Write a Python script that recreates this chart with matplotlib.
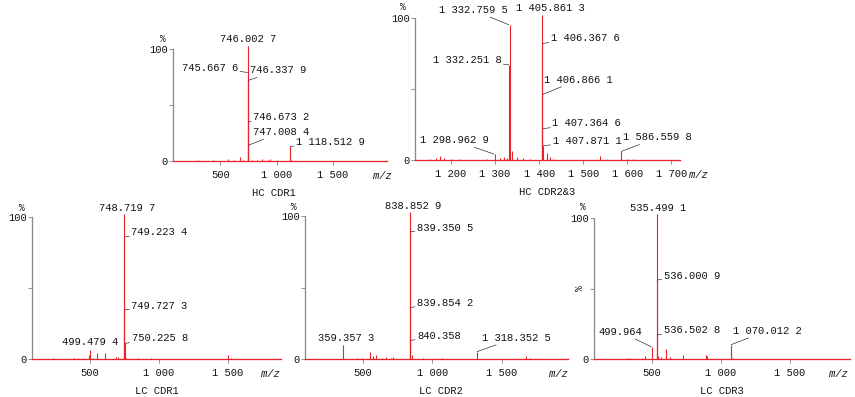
import matplotlib
matplotlib.use('Agg')
import matplotlib.pyplot as plt

plt.rcParams['font.family'] = ['Liberation Mono', 'DejaVu Sans']

RED = '#e8232a'
TXT = '#141414'
GREY = '#8a8a8a'

# ---- HC CDR1 ----
hc1_mz = [300, 433, 567, 620, 674, 700, 745.6676, 746.0027, 746.3379, 746.6732, 747.0084,
          780, 826, 870, 923, 941, 1003, 1118.5129, 1125]
hc1_int = [0.8, 0.8, 2.0, 1.0, 3.5, 1.0, 79, 103, 72, 35, 14,
           1.2, 1.0, 1.5, 1.2, 1.5, 1.0, 13, 1.0]
hc1_lab_mz = [746.0027, 745.6676, 746.3379, 746.6732, 747.0084, 1118.5129]
hc1_lab_txt = ['746.002 7', '745.667 6', '746.337 9', '746.673 2', '747.008 4', '1 118.512 9']

# ---- HC CDR2&3 ----
hc23_mz = [1152, 1165, 1175, 1185, 1200, 1220, 1282, 1298.9629, 1311, 1320, 1327,
           1332.2518, 1332.7595, 1338, 1350, 1363, 1379, 1405.8613, 1406.3676, 1406.8661,
           1407.3646, 1407.8711, 1418, 1425, 1432, 1538, 1554, 1586.5598, 1600, 1614]
hc23_int = [1.0, 1.2, 3.0, 1.2, 1.0, 1.0, 1.0, 4.0, 1.5, 2.0, 1.5,
            67, 95, 6.0, 2.0, 1.5, 1.0, 102, 82, 46,
            22, 10, 5.0, 2.0, 1.0, 3.0, 1.0, 6.0, 1.0, 1.0]
hc23_lab_mz = [1405.8613, 1332.7595, 1332.2518, 1406.3676, 1406.8661, 1407.3646,
               1407.8711, 1298.9629, 1586.5598]
hc23_lab_txt = ['1 405.861 3', '1 332.759 5', '1 332.251 8', '1 406.367 6', '1 406.866 1',
                '1 407.364 6', '1 407.871 1', '1 298.962 9', '1 586.559 8']

# ---- LC CDR1 ----
lc1_mz = [232, 384, 413, 450, 493, 499.4794, 522, 551, 609, 689, 703, 748.7197, 749.2234,
          749.7273, 750.2258, 761, 848, 942, 1500, 1522]
lc1_int = [0.8, 1.0, 1.0, 1.0, 3.0, 6.0, 1.0, 4.0, 4.0, 1.5, 1.5, 102, 86,
           34.5, 11, 1.0, 0.7, 0.7, 2.5, 1.0]
lc1_lab_mz = [748.7197, 749.2234, 749.7273, 750.2258, 499.4794]
lc1_lab_txt = ['748.719 7', '749.223 4', '749.727 3', '750.225 8', '499.479 4']

# ---- LC CDR2 ----
lc2_mz = [359.3573, 457, 493, 553, 575, 596, 640, 670, 700, 718, 838.8529, 839.3505,
          839.8542, 840.358, 852, 934, 1068, 1318.3525, 1675, 1704]
lc2_int = [10, 1.0, 1.0, 5.0, 2.0, 3.0, 1.0, 1.2, 1.0, 1.5, 103, 89,
           36, 13, 2.5, 1.0, 1.0, 5.0, 2.0, 1.0]
lc2_lab_mz = [838.8529, 839.3505, 839.8542, 840.358, 359.3573, 1318.3525]
lc2_lab_txt = ['838.852 9', '839.350 5', '839.854 2', '840.358', '359.357 3', '1 318.352 5']

# ---- LC CDR3 ----
lc3_mz = [319, 343, 428, 452, 499.964, 535.4991, 536.0009, 536.5028, 546, 565, 603, 633,
          727, 893, 901, 1070.0122, 1075, 1088]
lc3_int = [1.0, 1.0, 1.0, 2.0, 8.5, 103, 56, 17, 2.0, 1.5, 7.0, 1.5,
           3.0, 3.0, 2.0, 10, 6.0, 1.0]
lc3_lab_mz = [535.4991, 536.0009, 536.5028, 499.964, 1070.0122]
lc3_lab_txt = ['535.499 1', '536.000 9', '536.502 8', '499.964', '1 070.012 2']

titles = ['HC CDR1', 'HC CDR2&3', 'LC CDR1', 'LC CDR2', 'LC CDR3']

W, H = 855, 397
fig = plt.figure(figsize=(W / 72, H / 72), dpi=72)
FS = 10.5


def panel(box, xlim, xticks, mz, inten, lab_mz, lab_txt, offs, title, title_dx, mz_off, pct_off):
    left, right, top, bottom = box
    ax = fig.add_axes([left / W, 1 - bottom / H, (right - left) / W, (bottom - top) / H])
    ax.vlines(mz, 0, inten, color=RED, lw=1.1, clip_on=False, zorder=3)
    ax.plot(xlim, [0, 0], color=RED, lw=1.3, clip_on=False, zorder=3)
    ax.set_xlim(xlim)
    ax.set_ylim(0, 100)
    for s in ['top', 'right']:
        ax.spines[s].set_visible(False)
    ax.spines['left'].set_color(GREY)
    ax.spines['left'].set_linewidth(1.3)
    ax.spines['bottom'].set_color(GREY)
    ax.set_yticks([0, 50, 100])
    ax.set_yticklabels(['0', '', '100'])
    ax.set_xticks(xticks)
    ax.set_xticklabels(['{:,}'.format(t).replace(',', ' ') for t in xticks])
    ax.tick_params(axis='both', colors=GREY, labelcolor=TXT, labelsize=FS, length=4, width=0.9)
    ax.tick_params(axis='y', pad=1)
    ax.tick_params(axis='x', pad=5)
    ax.patch.set_alpha(0)

    lookup = dict(zip(mz, inten))
    for m, s, (dx, dy, ha) in zip(lab_mz, lab_txt, offs):
        if ha == 'center':
            ax.annotate(s, xy=(m, lookup[m]), xytext=(dx, dy), textcoords='offset points',
                        ha='center', va='center', fontsize=FS, color=TXT, annotation_clip=False)
        else:
            ax.annotate(s, xy=(m, lookup[m]), xytext=(dx, dy), textcoords='offset points',
                        ha=ha, va='center', fontsize=FS, color=TXT, annotation_clip=False,
                        arrowprops=dict(arrowstyle='-', color=TXT, lw=0.6, shrinkA=0, shrinkB=0.5))

    ax.annotate(title, xy=(0.5, 0), xycoords='axes fraction', xytext=(title_dx, -32),
                textcoords='offset points', ha='center', va='center', fontsize=FS, color=TXT)
    ax.annotate('m/z', xy=(1, 0), xycoords='axes fraction', xytext=(mz_off, -15),
                textcoords='offset points', ha='center', va='center', fontsize=FS,
                style='italic', color=TXT)
    ax.annotate('%', xy=(0, 1), xycoords='axes fraction', xytext=pct_off,
                textcoords='offset points', ha='center', va='center', fontsize=FS - 1, color=TXT)
    return ax


panel((173, 387, 49, 161), (77, 1983), [500, 1000, 1500], hc1_mz, hc1_int, hc1_lab_mz, hc1_lab_txt,
      [(0, 7, 'center'), (-10, 5, 'right'), (2, 10, 'left'), (5, 5, 'left'), (5, 13, 'left'),
       (6, 4, 'left')],
      titles[0], -6, -5, (-10, 10))

panel((415, 680, 18, 160), (1118, 1720), [1200, 1300, 1400, 1500, 1600, 1700], hc23_mz, hc23_int,
      hc23_lab_mz, hc23_lab_txt,
      [(9, 7, 'center'), (-2, 15, 'right'), (-8, 5, 'right'), (9, 6, 'left'), (2, 15, 'left'),
       (10, 6, 'left'), (10, 5, 'left'), (-6, 14, 'right'), (2, 14, 'left')],
      titles[1], 0, 18, (-12, 11))

panel((32, 281, 217, 359), (80, 1884), [500, 1000, 1500], lc1_mz, lc1_int, lc1_lab_mz, lc1_lab_txt,
      [(3, 6, 'center'), (7, 5, 'left'), (7, 4, 'left'), (7, 5, 'left'), (0, 8, 'center')],
      titles[2], 0, -11, (-10, 9))

panel((305, 568, 216, 359), (85, 1976), [500, 1000, 1500], lc2_mz, lc2_int, lc2_lab_mz, lc2_lab_txt,
      [(3, 6, 'center'), (7, 4, 'left'), (7, 5, 'left'), (7, 4, 'left'), (3, 7, 'center'),
       (5, 14, 'left')],
      titles[3], 4, -10, (-11, 9))

ax5 = panel((594, 850, 218, 359), (83, 1933), [500, 1000, 1500], lc3_mz, lc3_int, lc3_lab_mz,
            lc3_lab_txt,
            [(2, 6, 'center'), (7, 4, 'left'), (7, 5, 'left'), (-9, 15, 'right'), (2, 14, 'left')],
            titles[4], 0, -12, (-11, 11))
ax5.annotate('%', xy=(0, 0.5), xycoords='axes fraction', xytext=(-14, 0), textcoords='offset points',
             ha='center', va='center', rotation=90, fontsize=FS - 1, color=TXT)

fig.savefig('out.png', dpi=72)
